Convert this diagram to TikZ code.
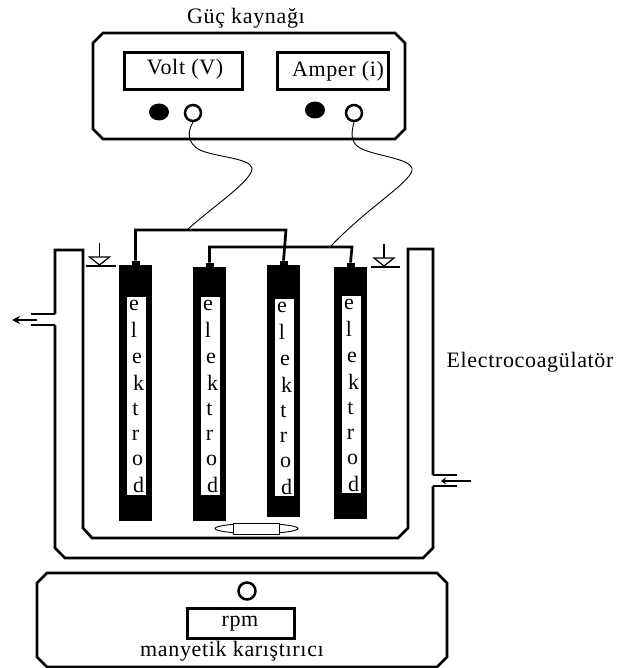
\documentclass[tikz,border=0pt]{standalone}
\usepackage{fontspec}
\setmainfont[LetterSpace=3]{Liberation Serif}
\usetikzlibrary{arrows.meta,shapes.geometric}
\begin{document}
\begin{tikzpicture}
[x=1pt,y=-1pt,
 every node/.style={font=\fontsize{22}{24}\selectfont,inner sep=0pt},
 heavyLine/.style={line width=2.7pt},
 thinLine/.style={line width=1.2pt},
 wireLine/.style={line width=0.9pt},
 chamferBox/.style={heavyLine},
 meterBox/.style={shape=rectangle,draw,line width=2.7pt,anchor=north west},
 openDot/.style={shape=circle,draw,line width=2.5pt,minimum size=16pt},
 blackDot/.style={shape=ellipse,fill=black,minimum width=20pt,minimum height=17pt},
 electrodeBody/.style={shape=rectangle,fill=black,minimum width=33pt,anchor=north},
 electrodeCap/.style={shape=rectangle,fill=black,minimum width=8pt,minimum height=5pt,anchor=south},
 electrodeSlot/.style={shape=rectangle,fill=white,minimum width=19pt,anchor=north}]
\useasboundingbox (0,0) rectangle (617,668);
%% power supply
\node (supplyLabel) at (246,18) {Güç kaynağı};
\draw[chamferBox] (103,33) -- (395,33) -- (405,43) -- (405,129) -- (395,139) -- (103,139) -- (93,129) -- (93,43) -- cycle;
\node (voltBox) at (123,51) [meterBox,minimum width=118pt,minimum height=37pt] {};
\node (amperBox) at (276,51) [meterBox,minimum width=111pt,minimum height=37pt] {};
\node (voltLabel) at (185,69) {Volt (V)};
\node (amperLabel) at (338,71) {Amper (i)};
\node (voltMinus) at (159,112) [blackDot] {};
\node (amperMinus) at (315,110) [blackDot] {};
\node (voltPlus) at (193,113) [openDot] {};
\node (amperPlus) at (354,113) [openDot] {};
%% vessel
\draw[chamferBox] (55,314) -- (55,250) -- (83,250) -- (83,528) -- (92,538) -- (398,538) -- (408,528) -- (408,249) -- (433,249) -- (433,475);
\draw[chamferBox] (55,325) -- (55,548) -- (65,558) -- (423,558) -- (433,548) -- (433,486);
\coordinate (outletA) at (31,314);
\coordinate (outletB) at (31,325);
\coordinate (inletA) at (457,475);
\coordinate (inletB) at (457,486);
\draw[chamferBox] (55,314) -- (outletA);
\draw[chamferBox] (55,325) -- (outletB);
\draw[chamferBox] (433,475) -- (inletA);
\draw[chamferBox] (433,486) -- (inletB);
\coordinate (outletStart) at (37,320);
\coordinate (outletEnd) at (12,320);
\coordinate (inletStart) at (471,481);
\coordinate (inletEnd) at (441,481);
\draw[thinLine,-{Stealth[length=8pt,width=8pt]}] (outletStart) -- (outletEnd);
\draw[thinLine,-{Stealth[length=5pt,width=7pt]}] (inletStart) -- (inletEnd);
%% liquid level marks
\foreach \markname/\x/\y/\ll/\lr in {levelLeft/99.5/266/86/116, levelRight/384/267/371/400}
{
  \coordinate (\markname) at (\x,\y);
  \draw[thinLine] (\ll,\y) -- (\lr,\y);
  \draw[thinLine] (\x,\y-1) -- (\x-10,\y-9) -- (\x+10,\y-9) -- cycle;
  \draw[thinLine] (\x,\y-9) -- (\x,\y-23);
}
%% electrodes
\foreach \nodename/\x/\ytop/\ybot/\slottop/\slotbot in {
  elecA/135.5/265/521/297/495, elecB/209.5/267/521/297/495,
  elecC/283.5/265/517/299/496, elecD/350.5/267/519/296/493}
{
  \node (\nodename) at (\x,\ytop) [electrodeBody,minimum height=\ybot-\ytop] {};
  \node (\nodename Cap) at (\x,\ytop+1) [electrodeCap] {};
  \node (\nodename Slot) at (\x+1,\slottop) [electrodeSlot,minimum height=\slotbot-\slottop] {};
  \foreach \letter/\dx/\dy [count=\i] in {e/-1.5/8, l/-1.5/33, e/1.5/61, k/3/86, t/0/112, r/0/138, o/2/163, d/3/188}
  {
    \node (\nodename\i) at (\x+\dx,\slottop+\dy) {\letter};
  }
}
%% buses and wires
\coordinate (busOneLeft) at (137,230);
\coordinate (busOneRight) at (286,230);
\coordinate (busTwoLeft) at (210,247);
\coordinate (busTwoRight) at (352,247);
\draw[heavyLine] (elecACap.north) |- (busOneLeft) -- (busOneRight) -- (elecCCap.north);
\draw[heavyLine] (elecBCap.north) |- (busTwoLeft) -- (busTwoRight) -- (elecDCap.north);
\coordinate (tapOne) at (188,229);
\coordinate (tapTwo) at (331,246);
\draw[wireLine] (voltPlus.south) .. controls (188,130) and (186,143) .. (200,150)
  .. controls (215,157) and (250,158) .. (252,168) .. controls (253,180) and (215,205) .. (tapOne);
\draw[wireLine] (amperPlus.south) .. controls (352,130) and (349,142) .. (360,148)
  .. controls (375,156) and (408,158) .. (412,168) .. controls (415,180) and (370,205) .. (tapTwo);
%% magnetic bar
\node (stirBar) at (256.5,528.5) [shape=ellipse,draw,line width=0.9pt,minimum width=83pt,minimum height=10pt] {};
\node (stirCore) at (256.5,528.5) [shape=rectangle,draw,line width=0.9pt,fill=white,minimum width=46pt,minimum height=11pt] {};
%% stirrer
\draw[chamferBox] (47,573) -- (437,573) -- (447,583) -- (447,657) -- (437,667) -- (47,667) -- (37,657) -- (37,583) -- cycle;
\node (stirKnob) at (247,591) [openDot,minimum size=17pt] {};
\node (rpmBox) at (186,607) [meterBox,minimum width=107pt,minimum height=30pt] {};
\node (rpmLabel) at (240,624) {rpm};
\node (stirLabel) at (232,651) {manyetik karıştırıcı};
\node (cellLabel) at (530,362) {Electrocoagülatör};
\end{tikzpicture}
\end{document}
